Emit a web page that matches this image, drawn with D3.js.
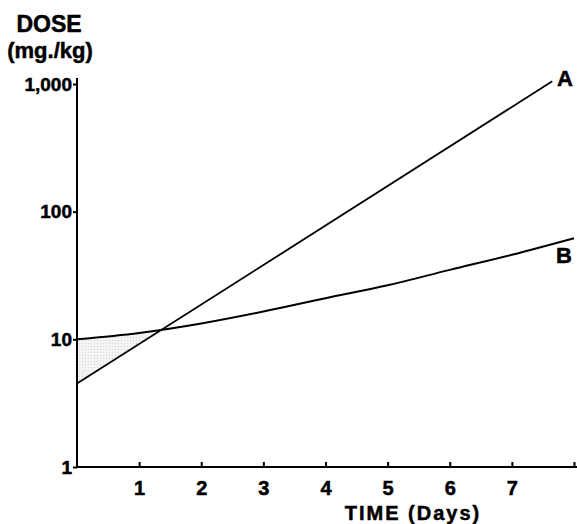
<!DOCTYPE html>
<html>
<head>
<meta charset="utf-8">
<script src="https://cdn.jsdelivr.net/npm/d3@7"></script>
<style>
  body { margin: 0; background: #fff; }
  svg text { font-family: "Liberation Sans", Arial, sans-serif; font-weight: bold; fill: #000; stroke: #000; stroke-width: 0.5px; }
</style>
</head>
<body>
<svg id="chart" width="577" height="524"></svg>
<script>
// data
var days = [0, 1, 2, 3, 4, 5, 6, 7, 8];
var doseB = [10, 11.2, 13.3, 16.5, 21, 26.5, 35, 46, 62];
var daysA = [0, 7.65];
var doseA = [4.5, 1050];
var yTicks = [1, 10, 100, 1000];
var xTicks = [1, 2, 3, 4, 5, 6, 7, 8];
var xTickLabels = ["1", "2", "3", "4", "5", "6", "7", ""];

var svg = d3.select("#chart");

var x = d3.scaleLinear().domain([0, 8]).range([77, 574]);
var y = d3.scaleLog().domain([1, 1000]).range([467, 84]);

// line A is straight on the log axis -> log-linear between its two ends
function doseAt(d) {
  var t = (d - daysA[0]) / (daysA[1] - daysA[0]);
  return Math.pow(10, Math.log10(doseA[0]) + t * (Math.log10(doseA[1]) - Math.log10(doseA[0])));
}

// where A crosses B (log interpolation of B between data days)
var cross = 0;
for (var i = 0; i < days.length - 1; i++) {
  var b0 = Math.log10(doseB[i]), b1 = Math.log10(doseB[i + 1]);
  var a0 = Math.log10(doseAt(days[i])), a1 = Math.log10(doseAt(days[i + 1]));
  if ((a0 - b0) <= 0 && (a1 - b1) > 0) {
    var f = (b0 - a0) / ((a1 - a0) - (b1 - b0));
    cross = days[i] + f * (days[i + 1] - days[i]);
    break;
  }
}

// stipple pattern for shaded region
var defs = svg.append("defs");
var pat = defs.append("pattern")
    .attr("id", "stipple")
    .attr("width", 3).attr("height", 3)
    .attr("patternUnits", "userSpaceOnUse");
pat.append("rect").attr("width", 3).attr("height", 3).attr("fill", "#f4f4f4");
pat.append("rect").attr("x", 1).attr("y", 1).attr("width", 1).attr("height", 1).attr("fill", "#d6d6d6");

defs.append("clipPath").attr("id", "clipCross")
  .append("rect")
    .attr("x", x(0)).attr("y", 0)
    .attr("width", x(cross) - x(0)).attr("height", 524);

var area = d3.area()
    .curve(d3.curveMonotoneX)
    .x(function(d, i) { return x(days[i]); })
    .y0(function(d, i) { return y(doseAt(days[i])); })
    .y1(function(d, i) { return y(d); });

svg.append("path")
    .datum(doseB)
    .attr("d", area)
    .attr("fill", "url(#stipple)")
    .attr("clip-path", "url(#clipCross)");

// axes
var yAxis = svg.append("g")
    .attr("transform", "translate(" + x(0) + ",0)")
    .call(d3.axisLeft(y).tickValues(yTicks).tickFormat(d3.format(",")).tickSize(4).tickSizeOuter(0).tickPadding(1));
yAxis.select(".domain").attr("d", "M0," + y(1) + "V" + (y(1000) - 6));
yAxis.selectAll("text").style("font-size", "19px");

var xAxis = svg.append("g")
    .attr("transform", "translate(0," + y(1) + ")")
    .call(d3.axisBottom(x).tickValues(xTicks).tickFormat(function(d, i) { return xTickLabels[i]; }).tickSize(-5).tickSizeOuter(0));
xAxis.select(".domain").attr("d", "M" + x(0) + ",0H577");
xAxis.selectAll("text").attr("y", 28).attr("dy", null).style("font-size", "20px");

svg.selectAll(".domain, .tick line").attr("stroke", "#000").attr("stroke-width", 2);

// curves
var lineB = d3.line()
    .curve(d3.curveMonotoneX)
    .x(function(d, i) { return x(days[i]); })
    .y(function(d) { return y(d); });

svg.append("path")
    .datum(doseB)
    .attr("d", lineB)
    .attr("fill", "none")
    .attr("stroke", "#000")
    .attr("stroke-width", 2);

var lineA = d3.line()
    .x(function(d, i) { return x(daysA[i]); })
    .y(function(d) { return y(d); });

svg.append("path")
    .datum(doseA)
    .attr("d", lineA)
    .attr("fill", "none")
    .attr("stroke", "#000")
    .attr("stroke-width", 1.8);

// labels
svg.append("text").attr("x", 565).attr("y", 86).attr("text-anchor", "middle")
    .style("font-size", "22px").text("A");
svg.append("text").attr("x", 564).attr("y", 263).attr("text-anchor", "middle")
    .style("font-size", "22px").text("B");

svg.append("text").attr("x", 49).attr("y", 32).attr("text-anchor", "middle")
    .style("font-size", "23px").text("DOSE");
svg.append("text").attr("x", 50).attr("y", 58).attr("text-anchor", "middle")
    .style("font-size", "22px").text("(mg./kg)");

svg.append("text").attr("x", 413).attr("y", 520).attr("text-anchor", "middle")
    .style("font-size", "20px").style("letter-spacing", "2px").text("TIME (Days)");
</script>
</body>
</html>
